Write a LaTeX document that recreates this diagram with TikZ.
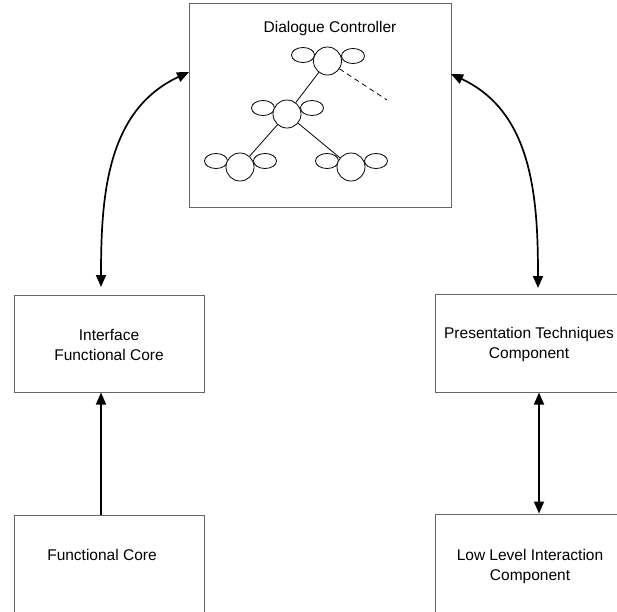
\documentclass[tikz,border=0pt]{standalone}
\usepackage{fontspec}
\setmainfont{Liberation Sans}
\usetikzlibrary{shapes.geometric,arrows.meta}

\begin{document}
\begin{tikzpicture}
[every node/.style={inner sep=0pt},
 box/.style={rectangle, draw=black!60, line width=1pt},
 caption/.style={align=center, font=\fontsize{15.5}{20}\selectfont},
 hub/.style={circle, minimum size=28pt, draw=black, fill=white, line width=0.8pt},
 lobe/.style={ellipse, minimum width=23pt, minimum height=15pt, draw=black, line width=0.8pt},
 link/.style={line width=1.7pt, >={Triangle[length=12pt,width=10pt]}}]
\useasboundingbox (0pt,0pt) rectangle (617pt,-611pt);
% the five boxes
\node (dlg) [box, minimum width=262pt, minimum height=204pt] at (320pt, -105pt) {};
\node (ifc) [box, minimum width=190pt, minimum height=97pt] at (109pt, -343.5pt) {};
\node (ptc) [box, minimum width=208pt, minimum height=98pt] at (539pt, -343pt) {};
\node (fc) [box, minimum width=190pt, minimum height=125pt] at (109pt, -577.5pt) {};
\node (llic) [box, minimum width=208pt, minimum height=126pt] at (539pt, -577pt) {};
\node (dlgText) [caption] at (330pt, -28pt) {Dialogue Controller};
\node (ifcText) [caption] at (109pt, -345pt) {Interface\\Functional Core};
\node (ptcText) [caption] at (529pt, -344pt) {Presentation Techniques\\Component};
\node (fcText) [caption] at (102pt, -555pt) {Functional Core};
\node (llicText) [caption] at (530pt, -566pt) {Low Level Interaction\\Component};
% the tree
\node (rootL) [lobe] at (303pt, -55pt) {};
\node (rootR) [lobe] at (353pt, -56pt) {};
\node (root) [hub] at (327.5pt, -61pt) {};
\node (midL) [lobe] at (263pt, -108pt) {};
\node (midR) [lobe] at (312pt, -108pt) {};
\node (mid) [hub] at (287pt, -114pt) {};
\node (leafAL) [lobe] at (216pt, -161pt) {};
\node (leafAR) [lobe] at (265pt, -161pt) {};
\node (leafA) [hub] at (240pt, -167pt) {};
\node (leafBL) [lobe] at (327pt, -161pt) {};
\node (leafBR) [lobe] at (376pt, -161pt) {};
\node (leafB) [hub] at (351pt, -167pt) {};
\coordinate (more) at (387pt, -100pt);
\draw [line width=0.8pt] (root) -- (mid);
\draw [line width=0.8pt] (mid) -- (leafA);
\draw [line width=0.8pt] (mid) -- (leafB);
\draw [line width=0.8pt, dash pattern=on 5pt off 4pt] (root) -- (more);
% connectors
\coordinate (dlgW) at (189pt, -72pt);
\coordinate (dlgE) at (451pt, -74pt);
\coordinate (ifcN) at (101pt, -287pt);
\coordinate (ptcN) at (538pt, -288pt);
\draw [link, <->] (ifcN) to [out=90, in=-155] (dlgW);
\draw [link, <->] (dlgE) to [out=-25, in=90] (ptcN);
\draw [link, ->] (fc.north -| 101pt, 0pt) -- (ifc.south -| 101pt, 0pt);
\draw [link, <->] (ptc.south) -- (llic.north);
\end{tikzpicture}
\end{document}
